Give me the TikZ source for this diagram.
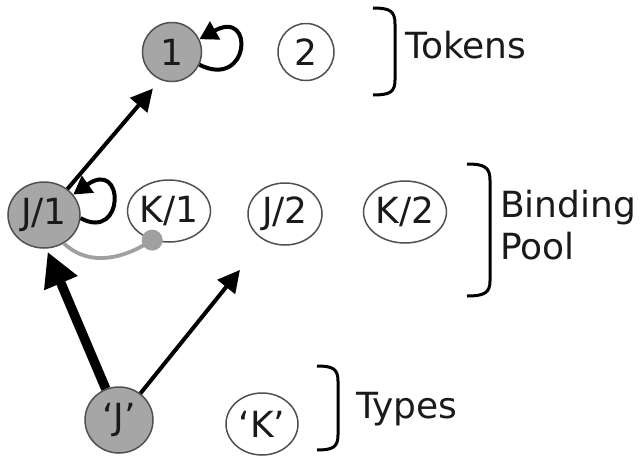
\documentclass[tikz,border=0pt]{standalone}
\usepackage{fontspec}
\setmainfont{DejaVu Sans}
\usetikzlibrary{shapes.geometric,arrows.meta}
\definecolor{nodefill}{HTML}{A6A6A6}
\definecolor{linkgray}{HTML}{A0A0A0}
\definecolor{rimgray}{HTML}{505050}
\definecolor{ink}{HTML}{1A1A1A}
\tikzset{
  unit/.style={ellipse, draw=rimgray, line width=1.5pt, inner sep=0pt,
    text=ink, font=\fontsize{36}{36}\selectfont},
  active/.style={unit, fill=nodefill},
  idle/.style={unit, fill=white},
  link/.style={draw=black, line width=4pt,
    -{Triangle[length=22pt,width=22pt]}},
  strong/.style={draw=black, line width=9.5pt,
    -{Triangle[length=34pt,width=34pt]}},
  selfloop/.style={draw=black, line width=4pt,
    -{Triangle[length=18pt,width=20pt]}},
  bind/.style={draw=linkgray, line width=3.8pt},
  bracket/.style={draw=black, line width=3pt},
  tag/.style={anchor=base west, text=ink, inner sep=0pt,
    font=\fontsize{36}{36}\selectfont},
}
\begin{document}
\begin{tikzpicture}[x=1pt,y=-1pt]
\useasboundingbox (0,0) rectangle (641,461);

% token layer
\node[active, minimum width=59pt, minimum height=59pt] (n1) at (172,52) {1};
\node[idle,   minimum width=56pt, minimum height=57pt] (n2) at (306,52) {2};

% binding pool
\node[active, minimum width=72pt, minimum height=66pt] (J1) at (44,215) {J/1};
\node[idle,   minimum width=72pt, minimum height=62pt] (K1) at (169,211) {K/1};
\node[idle,   minimum width=74pt, minimum height=62pt] (J2) at (285,214) {J/2};
\node[idle,   minimum width=74pt, minimum height=62pt] (K2) at (405,212) {K/2};

% type layer
\node[active, minimum width=68pt, minimum height=66pt] (Jt) at (119,420) {‘J’};
\node[idle,   minimum width=72pt, minimum height=62pt] (Kt) at (262,424) {‘K’};

% binding link between J/1 and K/1
\node[circle, fill=linkgray, minimum size=21pt, inner sep=0pt] (dot) at (K1.-120) {};
\draw[bind] (J1.-55) .. controls (90,268) and (125,258) .. (dot.center);

% feed-forward connections
\draw[strong, shorten >=40pt] (Jt) -- ([xshift=-12pt]J1.center);
\draw[link, shorten >=38pt] (Jt) -- (J2);
\draw[link, shorten >=48pt] (J1.48) -- ([xshift=12pt]n1.center);

% self-excitation loops
\draw[selfloop] (n1.-25) .. controls (250,90) and (255,8) .. (n1.25);
\draw[selfloop] (J1.-5) .. controls (125,242) and (125,158) .. (J1.35);

% layer brackets and labels
\draw[bracket] (373,8) .. controls (390,8) and (395,11) .. (395,24)
  -- (395,80) .. controls (395,92) and (390,95) .. (373,95);
\node[tag] (lt) at (405,58) {Tokens};

\draw[bracket] (467,164) .. controls (484,164) and (490,167) .. (490,180)
  -- (490,281) .. controls (490,293) and (484,296) .. (467,296);
\node[tag] (lb) at (500,217) {Binding};
\node[tag] (lp) at (500,259) {Pool};

\draw[bracket] (317,366) .. controls (333,366) and (338,369) .. (338,381)
  -- (338,435) .. controls (338,447) and (333,450) .. (317,450);
\node[tag] (ly) at (356,418) {Types};
\end{tikzpicture}
\end{document}
